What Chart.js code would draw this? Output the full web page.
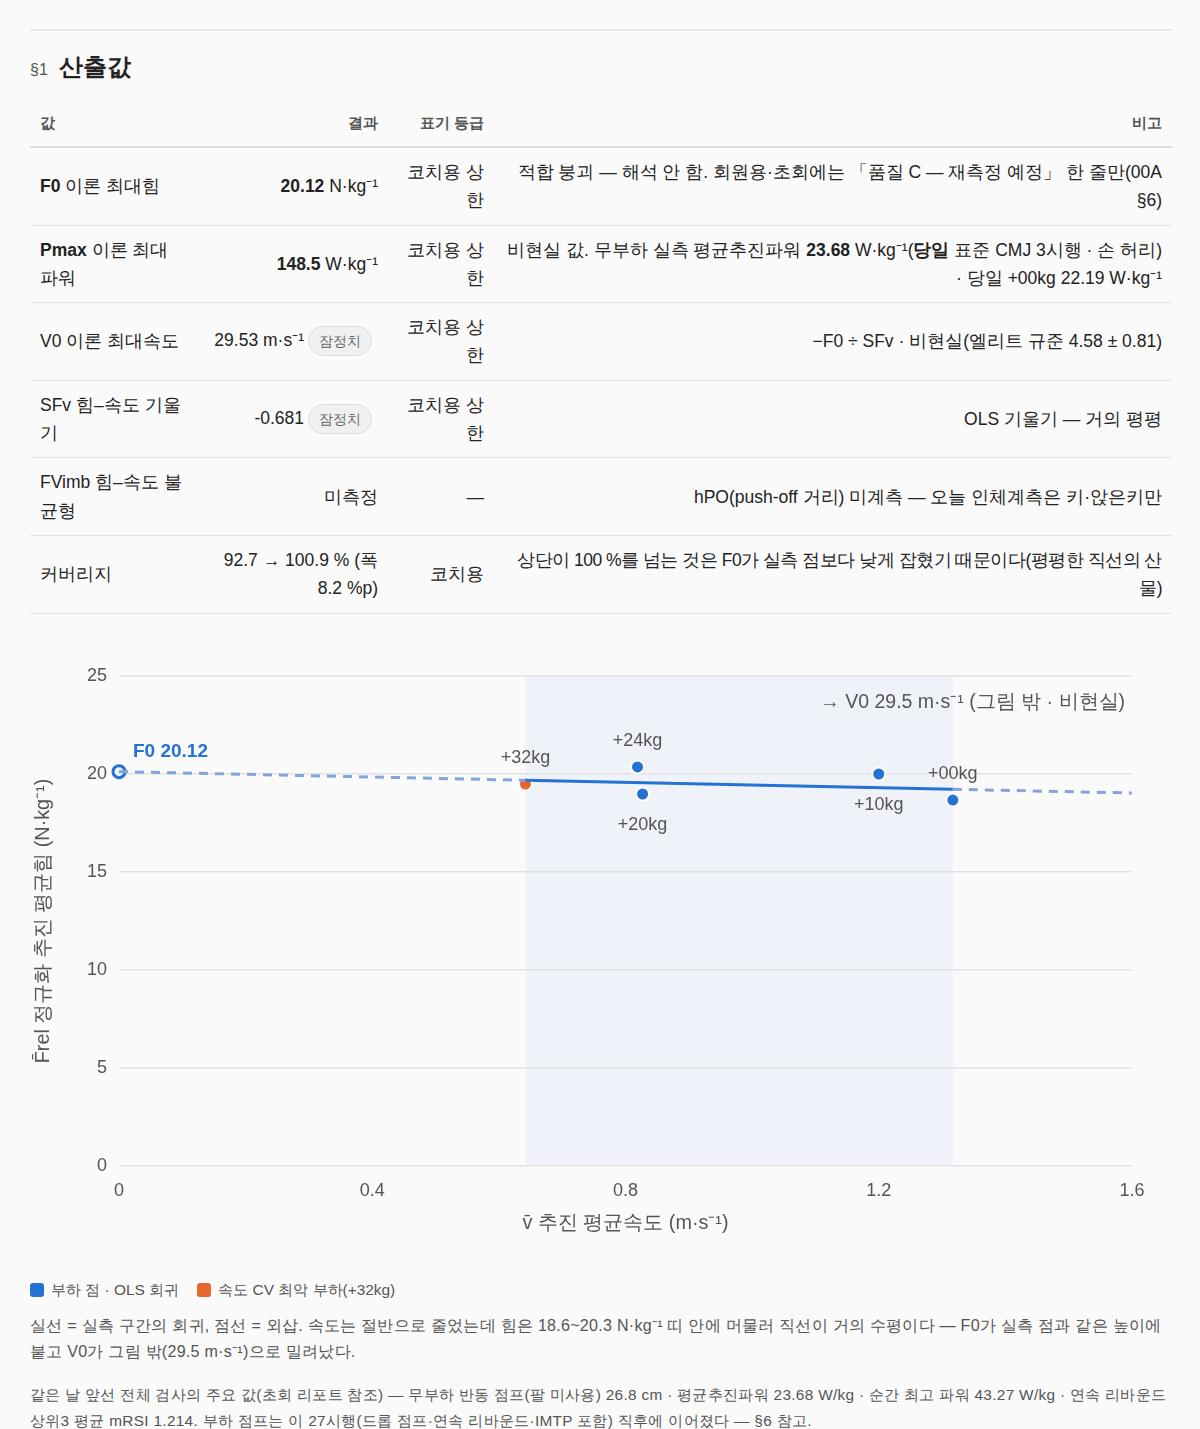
<!DOCTYPE html>
<html lang="ko">
<head>
<meta charset="utf-8">
<script src="https://cdn.jsdelivr.net/npm/chart.js@4.4.1/dist/chart.umd.min.js"></script>
<style>
  body { margin: 0; background: #fafafa; color: #222; font-family: sans-serif; }
  .page { padding: 29px 28px 0 30px; }
  .rule { border-top: 2px solid #e8e8e8; }
  h2 { margin: 20px 0 0 0; line-height: 32px; font-size: 24px; font-weight: bold; }
  h2 .sec { font-size: 16px; color: #555; font-weight: normal; margin-right: 11px; }
  table { width: 100%; border-collapse: collapse; table-layout: fixed; margin-top: 13px; font-size: 17.5px; }
  th { font-size: 15.2px; color: #555; font-weight: bold; padding: 10px 10px 9px 10px; line-height: 28px;
    border-bottom: 2px solid #ddd; }
  td { padding: 10px; line-height: 28.3px; border-bottom: 1px solid #e4e4e4; vertical-align: middle; }
  .l { text-align: left; } .r { text-align: right; }
  .tight { letter-spacing: -0.5px; }
  .pill { display: inline-block; font-size: 14px; color: #666; background: #f0f0f0;
    border: 1px solid #ddd; border-radius: 16px; padding: 0 10px; line-height: 28px; margin: 0 6px 0 4px; }
  .chartbox { position: relative; height: 600px; margin-top: 32px; }
  .legend { margin-top: 34px; font-size: 15.4px; color: #555; line-height: 20px; }
  .legend span.sw { display: inline-block; width: 14px; height: 14px; border-radius: 3px;
    vertical-align: -2px; margin-right: 7px; }
  .legend .item { margin-right: 14px; }
  p.note { font-size: 16.1px; letter-spacing: 0.25px; color: #555; line-height: 26px; margin: 12px 0 0 0; }
  p.src { font-size: 15.4px; letter-spacing: 0.3px; color: #555; line-height: 26px; margin: 18px 0 0 0; }
</style>
</head>
<body>
<div class="page">
  <div class="rule"></div>
  <h2><span class="sec">§1</span>산출값</h2>
  <table>
    <colgroup><col style="width:168px"><col style="width:190px"><col style="width:106px"><col></colgroup>
    <thead><tr><th class="l">값</th><th class="r">결과</th><th class="r">표기 등급</th><th class="r">비고</th></tr></thead>
    <tbody>
      <tr><td class="l"><b>F0</b> 이론 최대힘</td><td class="r"><b>20.12</b> N·kg⁻¹</td><td class="r">코치용 상한</td>
        <td class="r">적합 붕괴 — 해석 안 함. 회원용·초회에는 「품질 C — 재측정 예정」 한 줄만(00A §6)</td></tr>
      <tr><td class="l"><b>Pmax</b> 이론 최대 파워</td><td class="r"><b>148.5</b> W·kg⁻¹</td><td class="r">코치용 상한</td>
        <td class="r">비현실 값. 무부하 실측 평균추진파워 <b>23.68</b> W·kg⁻¹(<b>당일</b> 표준 CMJ 3시행 · 손 허리) · 당일 +00kg 22.19 W·kg⁻¹</td></tr>
      <tr><td class="l">V0 이론 최대속도</td><td class="r">29.53 m·s⁻¹<span class="pill">잠정치</span></td><td class="r">코치용 상한</td>
        <td class="r">−F0 ÷ SFv · 비현실(엘리트 규준 4.58 ± 0.81)</td></tr>
      <tr><td class="l">SFv 힘–속도 기울기</td><td class="r">-0.681<span class="pill">잠정치</span></td><td class="r">코치용 상한</td>
        <td class="r">OLS 기울기 — 거의 평평</td></tr>
      <tr><td class="l">FVimb 힘–속도 불균형</td><td class="r">미측정</td><td class="r">—</td>
        <td class="r">hPO(push-off 거리) 미계측 — 오늘 인체계측은 키·앉은키만</td></tr>
      <tr><td class="l">커버리지</td><td class="r">92.7 → 100.9 % (폭 8.2 %p)</td><td class="r">코치용</td>
        <td class="r tight">상단이 100 %를 넘는 것은 F0가 실측 점보다 낮게 잡혔기 때문이다(평평한 직선의 산물)</td></tr>
    </tbody>
  </table>

  <div class="chartbox"><canvas id="fvChart"></canvas></div>

  <div class="legend">
    <span class="item"><span class="sw" style="background:#2472d4"></span>부하 점 · OLS 회귀</span>
    <span class="item"><span class="sw" style="background:#e8662f"></span>속도 CV 최악 부하(+32kg)</span>
  </div>
  <p class="note">실선 = 실측 구간의 회귀, 점선 = 외삽. 속도는 절반으로 줄었는데 힘은 18.6~20.3 N·kg⁻¹ 띠 안에 머물러 직선이 거의 수평이다 — F0가 실측 점과 같은 높이에 붙고 V0가 그림 밖(29.5 m·s⁻¹)으로 밀려났다.</p>
  <p class="src">같은 날 앞선 전체 검사의 주요 값(초회 리포트 참조) — 무부하 반동 점프(팔 미사용) 26.8 cm · 평균추진파워 23.68 W/kg · 순간 최고 파워 43.27 W/kg · 연속 리바운드 상위3 평균 mRSI 1.214. 부하 점프는 이 27시행(드롭 점프·연속 리바운드·IMTP 포함) 직후에 이어졌다 — §6 참고.</p>
</div>

<script>
// load points
const loadLabels = ['+32kg', '+24kg', '+20kg', '+10kg', '+00kg'];
const velocity = [0.642, 0.819, 0.827, 1.200, 1.317];
const force = [19.49, 20.36, 18.98, 20.00, 18.67];

// OLS line: solid over measured range, dashed extrapolation either side
const fitX = [0.642, 1.317];
const fitY = [19.68, 19.22];
const extLeftX = [0, 0.642];
const extLeftY = [20.12, 19.68];
const extRightX = [1.317, 1.6];
const extRightY = [19.22, 19.03];
const f0Value = 20.12;

const xTicks = [0, 0.4, 0.8, 1.2, 1.6];
const yTicks = [0, 5, 10, 15, 20, 25];

const BLUE = '#2472d4';
const ORANGE = '#e8662f';
const FONT = 'sans-serif';

const zip = (xs, ys) => xs.map((x, i) => ({ x, y: ys[i] }));
const points = zip(velocity, force);

// shaded measured-velocity band
const bandPlugin = {
  id: 'band',
  beforeDraw(chart) {
    const { ctx, chartArea, scales } = chart;
    const x0 = scales.x.getPixelForValue(Math.min(...velocity));
    const x1 = scales.x.getPixelForValue(Math.max(...velocity));
    ctx.save();
    ctx.fillStyle = '#eff3f9';
    ctx.fillRect(x0, chartArea.top, x1 - x0, chartArea.bottom - chartArea.top);
    ctx.restore();
  }
};

// point labels + annotations
const labelPlugin = {
  id: 'labels',
  afterDatasetsDraw(chart) {
    const { ctx, scales } = chart;
    const below = { '+20kg': true, '+10kg': true };
    ctx.save();
    ctx.font = '18px ' + FONT;
    ctx.fillStyle = '#555';
    ctx.textAlign = 'center';
    ctx.textBaseline = 'middle';
    points.forEach((p, i) => {
      const px = scales.x.getPixelForValue(p.x);
      const py = scales.y.getPixelForValue(p.y);
      const lbl = loadLabels[i];
      const dy = below[lbl] ? 31 : -26;
      ctx.fillText(lbl, px, py + dy);
    });
    // F0 label
    const fx = scales.x.getPixelForValue(0);
    const fy = scales.y.getPixelForValue(f0Value);
    ctx.font = 'bold 19px ' + FONT;
    ctx.fillStyle = BLUE;
    ctx.textAlign = 'left';
    ctx.fillText('F0 ' + f0Value.toFixed(2), fx + 14, fy - 20);
    // V0 note
    ctx.font = '19.5px ' + FONT;
    ctx.fillStyle = '#555';
    ctx.textAlign = 'right';
    ctx.fillText('→ V0 29.5 m·s⁻¹ (그림 밖 · 비현실)', chart.chartArea.right - 7, chart.chartArea.top + 27);
    ctx.restore();
  }
};

new Chart(document.getElementById('fvChart'), {
  type: 'scatter',
  data: {
    datasets: [
      { data: zip(extLeftX, extLeftY), showLine: true, borderColor: '#7ea5de', borderWidth: 3,
        borderDash: [9, 7], pointRadius: 0 },
      { data: zip(extRightX, extRightY), showLine: true, borderColor: '#7ea5de', borderWidth: 3,
        borderDash: [9, 7], pointRadius: 0 },
      { data: zip(fitX, fitY), showLine: true, borderColor: BLUE, borderWidth: 3, pointRadius: 0 },
      { data: points, pointRadius: 6.5, pointBorderWidth: 2, pointBorderColor: '#fff',
        pointBackgroundColor: loadLabels.map(l => l === '+32kg' ? ORANGE : BLUE) },
      { data: [{ x: 0, y: f0Value }], pointRadius: 6, pointBorderWidth: 3, clip: false,
        pointBorderColor: BLUE, pointBackgroundColor: '#eef3fb' }
    ]
  },
  options: {
    responsive: true,
    maintainAspectRatio: false,
    animation: false,
    layout: { padding: { top: 30, right: 40, left: 0, bottom: 0 } },
    plugins: { legend: { display: false }, tooltip: { enabled: false } },
    scales: {
      x: {
        type: 'linear', min: 0, max: 1.6,
        afterBuildTicks: s => { s.ticks = xTicks.map(v => ({ value: v })); },
        afterFit: s => { s.height = 80; },
        grid: { display: false },
        border: { display: false },
        ticks: { color: '#555', font: { size: 18, family: FONT }, padding: 6 },
        title: { display: true, text: 'v̄ 추진 평균속도 (m·s⁻¹)', color: '#555',
          font: { size: 19.8, family: FONT }, padding: { top: 0, bottom: 11 } }
      },
      y: {
        min: 0, max: 25,
        afterBuildTicks: s => { s.ticks = yTicks.map(v => ({ value: v })); },
        afterFit: s => { s.width = 89; },
        grid: { color: '#e2e2e2', lineWidth: 1.5, drawTicks: false },
        border: { display: false },
        ticks: { color: '#555', font: { size: 18, family: FONT }, padding: 12 },
        title: { display: true, text: 'F̄rel 정규화 추진 평균힘 (N·kg⁻¹)', color: '#555',
          font: { size: 19.8, family: FONT }, padding: { top: 2, bottom: 0 } }
      }
    }
  },
  plugins: [bandPlugin, labelPlugin]
});
</script>
</body>
</html>
